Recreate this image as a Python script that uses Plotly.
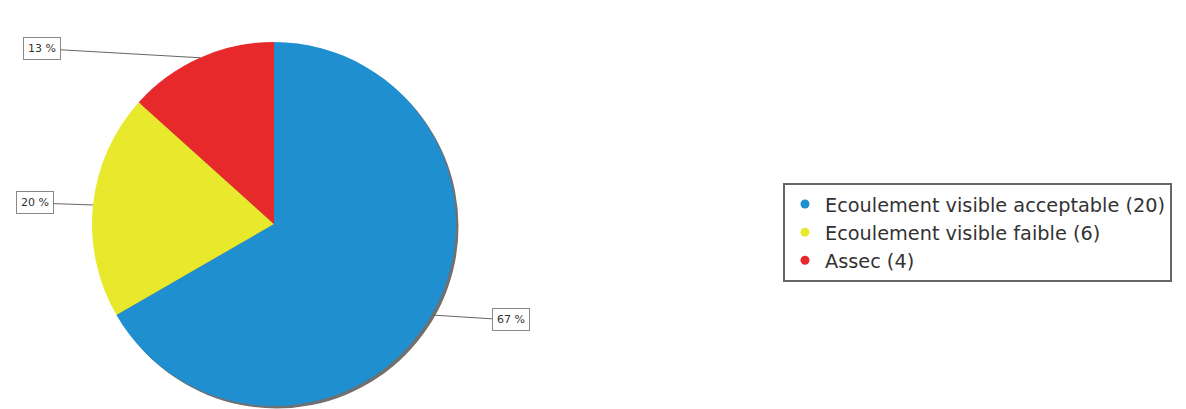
import math
import plotly.graph_objects as go

labels = ["Ecoulement visible acceptable", "Ecoulement visible faible", "Assec"]
counts = [20, 6, 4]
colors = ["#1f8fcf", "#e8e82c", "#e8292b"]
label_offsets = [(79, 5), (-58, -2), (-158, -9)]  # pixel offsets of the % boxes

W, H = 1186, 409
OFF = 8  # page body margin
cx, cy, r = 274 - OFF, 224 - OFF, 182

def dom(cxp, cyp, rp):
    return dict(x=[(cxp - rp) / W, (cxp + rp) / W],
                y=[(H - cyp - rp) / H, (H - cyp + rp) / H])

fig = go.Figure()

# shadow
fig.add_trace(go.Pie(values=[1], marker=dict(colors=["#707070"], line=dict(width=0)),
                     domain=dom(cx + 2.5, cy + 2.5, r), textinfo="none", hoverinfo="skip",
                     showlegend=False, sort=False))

fig.add_trace(go.Pie(labels=labels, values=counts, sort=False, direction="clockwise",
                     rotation=0, marker=dict(colors=colors, line=dict(width=0)),
                     domain=dom(cx, cy, r), textinfo="none", showlegend=False))

total = sum(counts)
cum = 0
annotations = []
for v, (ax, ay) in zip(counts, label_offsets):
    mid = (cum + v / 2) / total * 2 * math.pi
    cum += v
    px = cx + r * math.sin(mid)
    py = cy - r * math.cos(mid)
    annotations.append(dict(
        x=px / W, y=(H - py) / H, xref="paper", yref="paper",
        ax=ax, ay=ay, showarrow=True, arrowhead=0, arrowwidth=1, arrowcolor="#666",
        standoff=0, text=f"{round(v / total * 100)} %",
        font=dict(family="DejaVu Sans", size=11, color="#333"),
        bordercolor="#888", borderwidth=1, borderpad=4, bgcolor="white"))

for lab, c, col in zip(labels, counts, colors):
    fig.add_trace(go.Scatter(x=[None], y=[None], mode="markers", name=f"{lab} ({c})",
                             marker=dict(symbol="circle", size=9, color=col)))

fig.update_layout(
    width=W, height=H, margin=dict(l=0, r=0, t=0, b=0),
    paper_bgcolor="white", plot_bgcolor="white",
    xaxis=dict(visible=False), yaxis=dict(visible=False),
    annotations=annotations,
    legend=dict(x=(783 - OFF) / W, y=1 - (183 - OFF) / H, xanchor="left", yanchor="top",
                bordercolor="#666", borderwidth=2, bgcolor="white",
                font=dict(family="DejaVu Sans", size=19.3, color="#333"),
                itemwidth=30, tracegroupgap=0),
)

fig.write_html("out.html")
